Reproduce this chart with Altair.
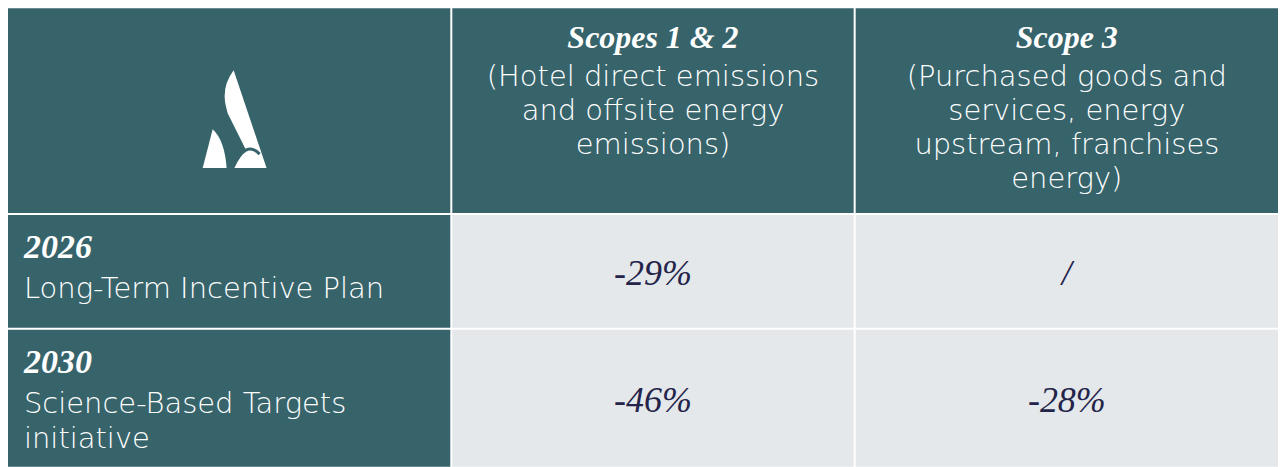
import altair as alt
import pandas as pd

# ---------------- data ----------------
col_titles = ["", "Scopes 1 & 2", "Scope 3"]
col_subtitles = [
    [],
    ["(Hotel direct emissions", "and offsite energy", "emissions)"],
    ["(Purchased goods and", "services, energy", "upstream, franchises", "energy)"],
]
row_years = ["2026", "2030"]
row_names = [["Long-Term Incentive Plan"], ["Science-Based Targets", "initiative"]]
scope12_targets = ["-29%", "-46%"]
scope3_targets = ["/", "-28%"]

# ---------------- layout (pixels inside the view) ----------------
W, H = 1272, 459
col_edges = [(0, 443), (445, 847), (849, 1272)]
row_edges = [(0, 205), (207, 320), (322, 459)]
TEAL = "#37646b"
LIGHT = "#e4e8eb"
NAVY = "#24244a"
TITLE_BASE = 40
SUB_BASE = 78
LINE_H = 34
LABEL_X = 16

# cells
cells = []
for r, (y0, y1) in enumerate(row_edges):
    for c, (x0, x1) in enumerate(col_edges):
        fill = TEAL if (r == 0 or c == 0) else LIGHT
        cells.append({"x": x0, "x2": x1, "y": y0, "y2": y1, "fill": fill})
cells_df = pd.DataFrame(cells)

def ccenter(c):
    return (col_edges[c][0] + col_edges[c][1]) / 2

# header titles & subtitles
titles, subs = [], []
for c in range(1, 3):
    titles.append({"x": ccenter(c), "y": TITLE_BASE, "text": col_titles[c]})
    for k, line in enumerate(col_subtitles[c]):
        subs.append({"x": ccenter(c), "y": SUB_BASE + LINE_H * k, "text": line})

# row labels
years, names = [], []
for i in range(2):
    top = row_edges[i + 1][0]
    years.append({"x": LABEL_X, "y": top + 43, "text": row_years[i]})
    for k, line in enumerate(row_names[i]):
        names.append({"x": LABEL_X, "y": top + 83 + 35 * k, "text": line})

# values
vals = []
for i in range(2):
    y0, y1 = row_edges[i + 1]
    cy = (y0 + y1) / 2 + 14
    vals.append({"x": ccenter(1), "y": cy, "text": scope12_targets[i]})
    vals.append({"x": ccenter(2), "y": cy, "text": scope3_targets[i]})

xs = alt.Scale(domain=[0, W], nice=False, zero=False)
ys = alt.Scale(domain=[0, H], nice=False, zero=False, reverse=True)
X = alt.X("x:Q", scale=xs, axis=None)
Y = alt.Y("y:Q", scale=ys, axis=None)

rects = alt.Chart(cells_df).mark_rect().encode(
    x=X, x2="x2:Q", y=Y, y2="y2:Q", color=alt.Color("fill:N", scale=None)
)

title_layer = alt.Chart(pd.DataFrame(titles)).mark_text(
    align="center", baseline="alphabetic", font="Liberation Serif",
    fontSize=32, fontStyle="italic", fontWeight="bold", color="white"
).encode(x=X, y=Y, text="text:N")

sub_layer = alt.Chart(pd.DataFrame(subs)).mark_text(
    align="center", baseline="alphabetic", font="DejaVu Sans",
    fontSize=29, fontWeight=300, color="white"
).encode(x=X, y=Y, text="text:N")

year_layer = alt.Chart(pd.DataFrame(years)).mark_text(
    align="left", baseline="alphabetic", font="Liberation Serif",
    fontSize=34, fontStyle="italic", fontWeight="bold", color="white"
).encode(x=X, y=Y, text="text:N")

name_layer = alt.Chart(pd.DataFrame(names)).mark_text(
    align="left", baseline="alphabetic", font="DejaVu Sans",
    fontSize=29, fontWeight=300, color="white"
).encode(x=X, y=Y, text="text:N")

val_layer = alt.Chart(pd.DataFrame(vals)).mark_text(
    align="center", baseline="alphabetic", font="Liberation Serif",
    fontSize=36, fontStyle="italic", color=NAVY
).encode(x=X, y=Y, text="text:N")

# logo (two sails and a wave)
logo_df = pd.DataFrame([{"x": 227, "y": 111}])
BIG_SAIL = ("M -0.02 -0.98 Q -0.26 -0.66 -0.18 -0.28 L -0.14 -0.12 L 0.22 0.6 "
            "L -0.06 0.98 L 0.64 0.98 Z")
SMALL_SAIL = "M -0.44 0.2 L -0.64 0.98 L -0.16 0.98 Q -0.2 0.42 -0.44 0.2 Z"
WAVE = "M -0.04 0.98 Q 0.22 0.4 0.5 0.7"
logo_big = alt.Chart(logo_df).mark_point(
    shape=BIG_SAIL, filled=True, size=10000, color="white", opacity=1, strokeWidth=0
).encode(x=X, y=Y)
logo_small = alt.Chart(logo_df).mark_point(
    shape=SMALL_SAIL, filled=True, size=10000, color="white", opacity=1, strokeWidth=0
).encode(x=X, y=Y)
logo_wave = alt.Chart(logo_df).mark_point(
    shape=WAVE, filled=False, size=10000, color=TEAL, opacity=1, strokeWidth=3
).encode(x=X, y=Y)

chart = alt.layer(
    rects, logo_big, logo_small, logo_wave,
    title_layer, sub_layer, year_layer, name_layer, val_layer
).properties(
    width=W, height=H, padding=0, autosize=alt.AutoSizeParams(type="none"),
    background="white"
).configure_view(stroke=None)

chart.save("out.html", embed_options={"renderer": "svg", "actions": False})
